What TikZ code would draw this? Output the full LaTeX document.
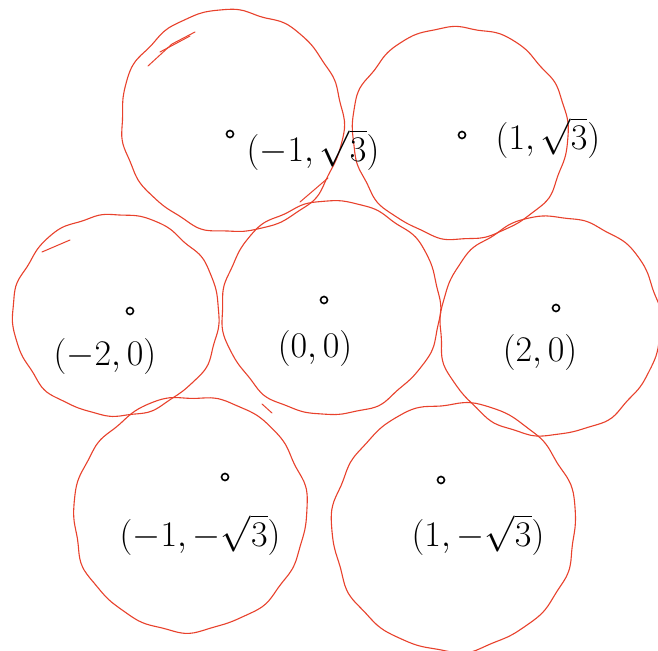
\documentclass[tikz,border=0pt]{standalone}
\usepackage{amsmath}
\definecolor{penred}{HTML}{E8412C}
\tikzset{
  disc/.style={draw=penred, line width=1.1pt, line join=round},
  centre/.style={circle, draw=black, line width=1.6pt, inner sep=0pt, minimum size=7pt},
  lab/.style={font=\Huge, inner sep=0pt, scale=1.45, transform shape},
  stray/.style={draw=penred, line width=1pt, line cap=round}
}
\begin{document}
\begin{tikzpicture}[x=1pt,y=-1pt]
\useasboundingbox (0,0) rectangle (658,650);
\fill[white] (0,0) rectangle (658,650);
% wobbly hand-drawn circles: centre (cx,cy), radius r, phase p
\foreach \cx/\cy/\r/\p in {232/121/111/0, 460/133/107/40, 116/315/102/80, 331/308/108/120, 550/326/110/160, 190/514/117/200, 454/527/123/240}{
  \draw[disc] plot[smooth cycle, domain=0:356, samples=90]
    ({\cx + \r*(1+0.012*sin(2*\x+\p)+0.008*cos(7*\x+2*\p)+0.007*sin(11*\x+\p)+0.005*cos(17*\x+3*\p))*cos(\x)},
     {\cy + \r*(1+0.012*sin(2*\x+\p)+0.008*cos(7*\x+2*\p)+0.007*sin(11*\x+\p)+0.005*cos(17*\x+3*\p))*sin(\x)});
}
% stray pen strokes
\draw[stray] (148,66) -- (172,44) -- (195,32);
\draw[stray] (160,52) -- (190,36);
\draw[stray] (42,252) -- (70,240);
\draw[stray] (300,202) -- (328,178);
\draw[stray] (262,404) -- (272,413);
% centres
\node[centre] (c1) at (230,134) {};
\node[centre] (c2) at (462,135) {};
\node[centre] (c3) at (130,311) {};
\node[centre] (c4) at (324,300) {};
\node[centre] (c5) at (556,308) {};
\node[centre] (c6) at (225,477) {};
\node[centre] (c7) at (441,480) {};
% labels
\node[lab] (l1) at (313,150) {$(-1,\sqrt{3})$};
\node[lab] (l2) at (548,138) {$(1,\sqrt{3})$};
\node[lab] (l3) at (105,356) {$(-2,0)$};
\node[lab] (l4) at (315,348) {$(0,0)$};
\node[lab] (l5) at (540,352) {$(2,0)$};
\node[lab] (l6) at (200,535) {$(-1,-\sqrt{3})$};
\node[lab] (l7) at (478,535) {$(1,-\sqrt{3})$};
\end{tikzpicture}
\end{document}
